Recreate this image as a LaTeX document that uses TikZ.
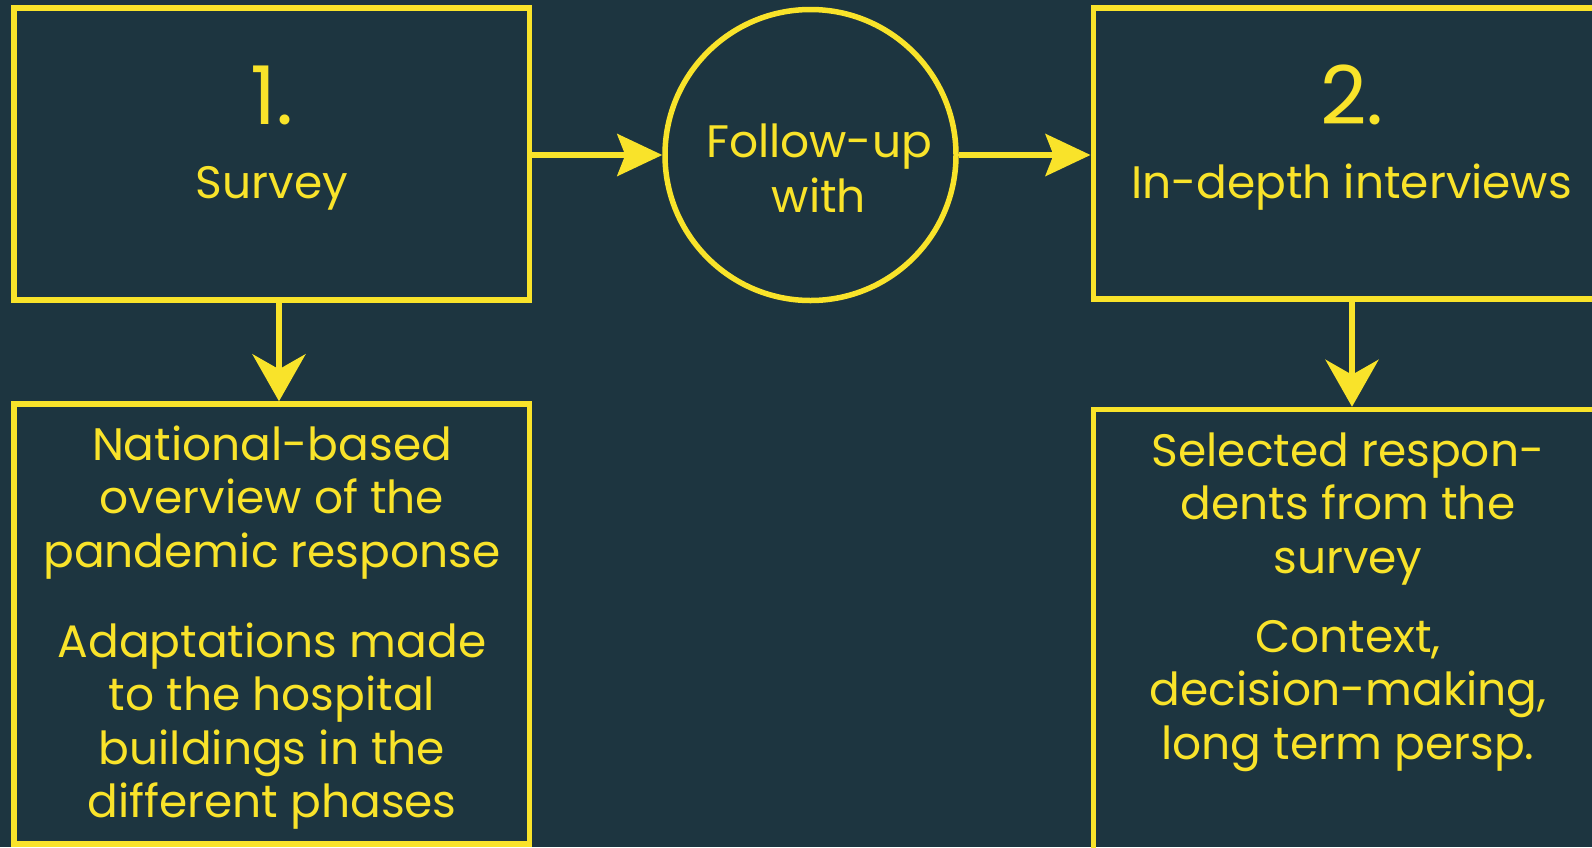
\documentclass[tikz,border=0pt]{standalone}
\usepackage{fontspec}
\setmainfont{Poppins}
\usetikzlibrary{arrows.meta}
\definecolor{bg}{RGB}{29,53,64}
\definecolor{yel}{RGB}{249,227,42}
\newcommand{\txtsize}{\fontsize{45.5}{53.5}\selectfont}
\newcommand{\numsize}{\fontsize{81}{90}\selectfont}
\begin{document}
\begin{tikzpicture}[x=1pt,y=-1pt,
  box/.style={draw=yel, line width=5.5pt, minimum width=515.5pt, inner sep=0pt},
  ring/.style={draw=yel, line width=5.5pt, circle, minimum size=291pt, inner sep=0pt},
  lbl/.style={text=yel, anchor=base, inner sep=0pt, font=\txtsize},
  num/.style={text=yel, anchor=base, inner sep=0pt, font=\numsize},
  harrow/.style={draw=yel, line width=5.5pt, -{Stealth[length=45pt,width=42pt,inset=8pt]}},
  varrow/.style={draw=yel, line width=5.5pt, -{Stealth[length=47pt,width=53pt,inset=15pt]}}]
\fill[bg] (0,0) rectangle (1592,847);
\useasboundingbox (0,0) rectangle (1592,847);
% boxes
\node[box, minimum height=292pt] (s1) at (271.75,154) {};
\node[box, minimum height=291pt] (s2) at (1351,153.5) {};
\node[ring] (fu) at (810.5,155) {};
\node[box, minimum height=440pt] (r1) at (271.75,624) {};
\node[box, minimum height=470pt] (r2) at (1351,644.5) {};
% texts
\node[num] (n1) at (272,124) {1.};
\node[lbl] (t1) at (272,198) {Survey};
\node[num] (n2) at (1352,124) {2.};
\node[lbl] (t2) at (1351.5,198) {In-depth interviews};
\node[lbl] (tf) at (819,157) {\begin{tabular}[t]{@{}c@{}}Follow-up\\[1.5pt]with\end{tabular}};
\node[lbl] (tr1) at (272,460) {\begin{tabular}[t]{@{}c@{}}National-based\\overview of the\\pandemic response\\[36.5pt]Adaptations made\\to the hospital\\buildings in the\\different phases\end{tabular}};
\node[lbl] (tr2) at (1348,466) {\begin{tabular}[t]{@{}c@{}}Selected respon-\\dents from the\\survey\\[25.5pt]Context,\\decision-making,\\long term persp.\end{tabular}};
% connectors
\draw[harrow] (s1.east |- fu.west) -- (fu.west);
\draw[harrow] (fu.east) -- (fu.east -| s2.west);
\draw[varrow] ([xshift=7.25pt]s1.south) -- ([xshift=7.25pt]r1.north);
\draw[varrow] ([xshift=1pt]s2.south) -- ([xshift=1pt]r2.north);
\end{tikzpicture}
\end{document}
